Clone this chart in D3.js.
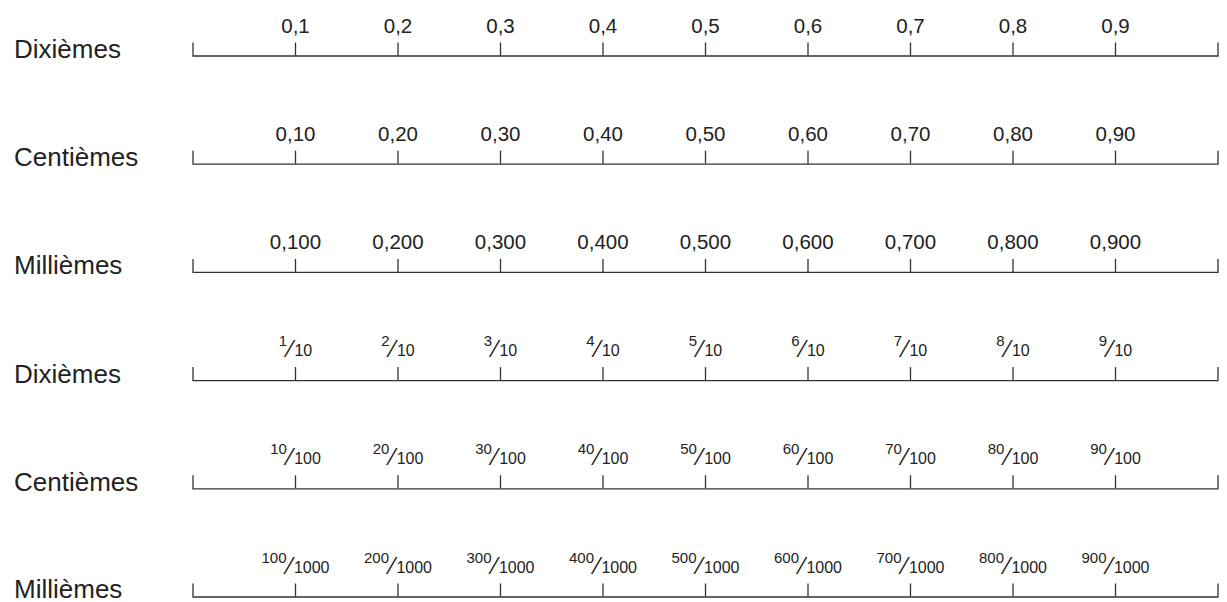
<!DOCTYPE html>
<html>
<head>
<meta charset="utf-8">
<script src="https://cdn.jsdelivr.net/npm/d3@7"></script>
<style>
  body { margin: 0; background: #fff; }
  svg { display: block; font-family: "Liberation Sans", Arial, Helvetica, sans-serif; }
</style>
</head>
<body>
<svg id="chart"></svg>
<script>
// one number line per row
var rowLabels = ["Dixièmes", "Centièmes", "Millièmes", "Dixièmes", "Centièmes", "Millièmes"];
var tickValues = [0.1, 0.2, 0.3, 0.4, 0.5, 0.6, 0.7, 0.8, 0.9];

var decimalTenths = ["0,1", "0,2", "0,3", "0,4", "0,5", "0,6", "0,7", "0,8", "0,9"];
var decimalHundredths = ["0,10", "0,20", "0,30", "0,40", "0,50", "0,60", "0,70", "0,80", "0,90"];
var decimalThousandths = ["0,100", "0,200", "0,300", "0,400", "0,500", "0,600", "0,700", "0,800", "0,900"];

// fractions as [numerator, denominator]
var fracTenths = [["1","10"],["2","10"],["3","10"],["4","10"],["5","10"],["6","10"],["7","10"],["8","10"],["9","10"]];
var fracHundredths = [["10","100"],["20","100"],["30","100"],["40","100"],["50","100"],["60","100"],["70","100"],["80","100"],["90","100"]];
var fracThousandths = [["100","1000"],["200","1000"],["300","1000"],["400","1000"],["500","1000"],["600","1000"],["700","1000"],["800","1000"],["900","1000"]];

var rowTicks = [decimalTenths, decimalHundredths, decimalThousandths, fracTenths, fracHundredths, fracThousandths];

var width = 1227, height = 602;

var svg = d3.select("#chart")
  .attr("width", width)
  .attr("height", height);

var x = d3.scaleLinear().domain([0, 1]).range([192.5, 1217.5]);
var rowY = d3.scaleLinear().domain([0, rowLabels.length - 1]).range([55.5, 596.5]);

rowLabels.forEach(function(label, i) {
  var labels = rowTicks[i];
  var isFrac = Array.isArray(labels[0]);

  svg.append("text")
    .attr("x", 14)
    .attr("y", rowY(i) + (i == 5 ? 1 : 2.5))
    .attr("fill", "#222")
    .attr("font-size", 26)
    .text(label);

  var g = svg.append("g")
    .attr("transform", "translate(0," + rowY(i) + ")")
    .call(d3.axisTop(x)
      .tickValues(tickValues)
      .tickSize(13)
      .tickSizeOuter(13)
      .tickFormat(function(d, j) { return isFrac ? "" : labels[j]; }));

  g.select(".domain").attr("stroke", "#333").attr("stroke-width", 1.3);
  g.selectAll(".tick line").attr("stroke", "#333").attr("stroke-width", 1.3);

  var txt = g.selectAll(".tick text")
    .attr("fill", "#222")
    .attr("font-size", 20.5)
    .attr("font-family", null)
    .attr("dy", null)
    .attr("y", isFrac ? -24 : -22.5);

  if (isFrac) {
    txt.each(function(d, j) {
      var t = d3.select(this);
      t.append("tspan").attr("font-size", 15).attr("dy", -10).text(labels[j][0]);
      t.append("tspan").attr("font-size", 23).attr("dx", 1.5).attr("dy", 11).text("\u2044");
      t.append("tspan").attr("font-size", 16).attr("dx", 2).attr("dy", -1).text(labels[j][1]);
    });
  }
});
</script>
</body>
</html>
